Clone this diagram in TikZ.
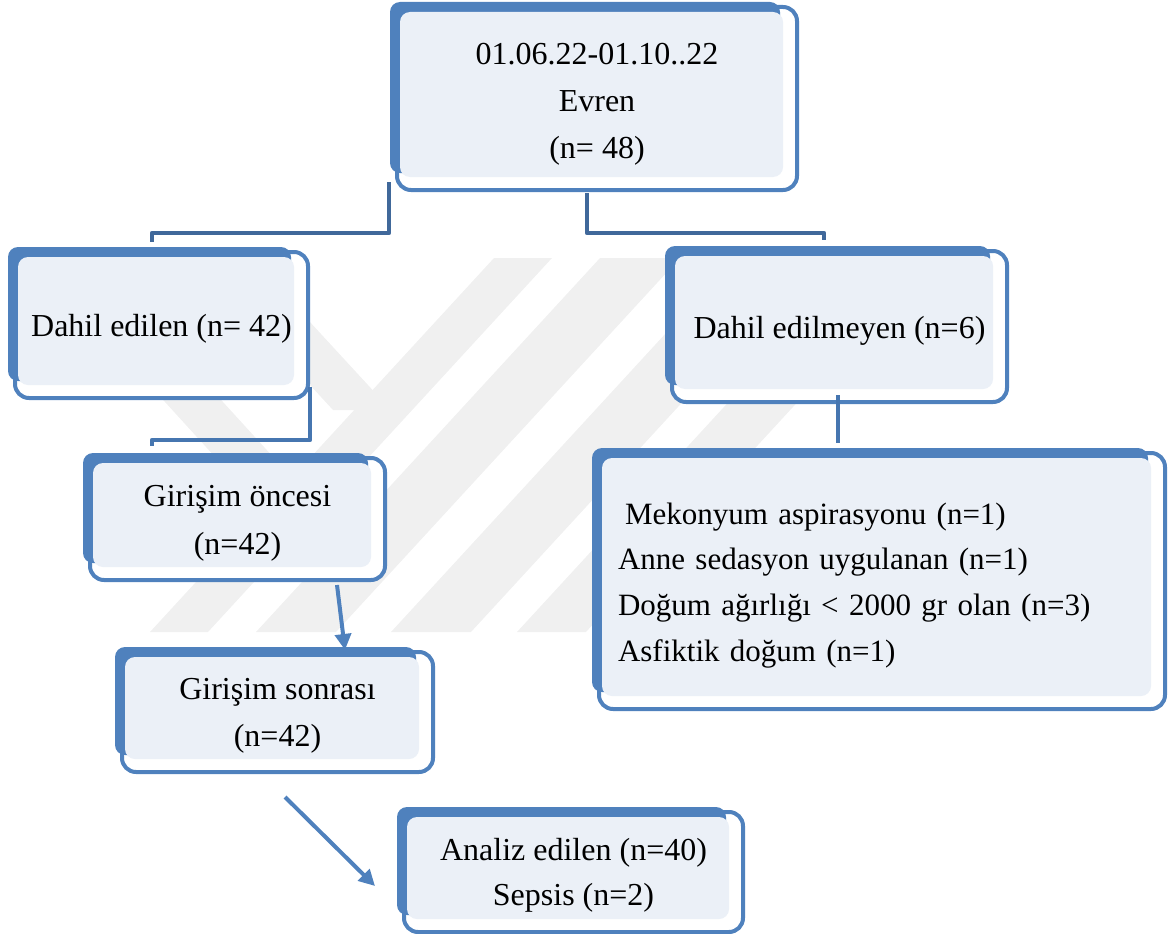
\documentclass[tikz,border=0pt]{standalone}
\usepackage{fontspec}
\setmainfont{Liberation Serif}
\usetikzlibrary{calc,arrows.meta}
\pgfdeclarelayer{wm}\pgfdeclarelayer{lA}\pgfdeclarelayer{lB}\pgfdeclarelayer{lC}
\pgfsetlayers{wm,lA,lB,lC,main}
\definecolor{bblue}{HTML}{4F81BD}
\definecolor{bfill}{HTML}{EBF0F7}
\definecolor{cdark}{HTML}{40689A}
\definecolor{cmid}{HTML}{4676B0}
\definecolor{wmgray}{HTML}{F0F0F0}
\newcommand{\deco}[1]{%
 \begin{pgfonlayer}{lA}\draw[bblue,line width=4pt,fill=white,rounded corners=14pt] (#1.north west) rectangle (#1.south east);\end{pgfonlayer}
 \begin{pgfonlayer}{lB}\fill[bblue,rounded corners=10pt] ($(#1.north west)+(-7,-5)$) rectangle ($(#1.south east)+(-17,-17)$);\end{pgfonlayer}
 \begin{pgfonlayer}{lC}\fill[bfill,rounded corners=10pt] ($(#1.north west)+(3,5)$) rectangle ($(#1.south east)+(-14,-13)$);\end{pgfonlayer}}
\tikzset{
 box/.style={rectangle,inner sep=0pt,outer sep=0pt,align=center,font=\fontsize{32}{47}\selectfont,
   execute at begin node={\rule{0pt}{30pt}}},
 conn/.style={line width=4.5pt,line join=round},
 arr/.style={bblue,line width=4pt,-{Triangle[length=16pt,width=16pt]}},
 wmark/.style={fill=wmgray}
}
\begin{document}
\begin{tikzpicture}[x=1pt,y=-1pt]
\useasboundingbox (0,0) rectangle (1168,934);
% faint watermark
\begin{pgfonlayer}{wm}
\fill[wmark] (494,258) -- (552,258) -- (208,632) -- (150,632) -- cycle;
\fill[wmark] (600,258) -- (680,258) -- (336,632) -- (256,632) -- cycle;
\fill[wmark] (735,258) -- (815,258) -- (471,632) -- (391,632) -- cycle;
\fill[wmark] (861,258) -- (930,258) -- (586,632) -- (517,632) -- cycle;
\fill[wmark] (193,258) -- (251,258) -- (391,410) -- (333,410) -- cycle;
\fill[wmark] (72,300) -- (130,300) -- (285,470) -- (227,470) -- cycle;
\end{pgfonlayer}
\node[box,minimum width=400pt,minimum height=183pt] (top) at (597,98.5) {\rule{0pt}{33pt}01.06.22-01.10..22\\Evren\\(n= 48)};
\node[box,minimum width=293pt,minimum height=146pt] (inc) at (161.5,325) {Dahil edilen (n= 42)};
\node[box,minimum width=335pt,minimum height=151pt] (exc) at (839.5,326.5) {Dahil edilmeyen (n=6)};
\node[box,minimum width=295pt,minimum height=122pt,font=\fontsize{32}{48}\selectfont] (pre) at (237.5,519) {\rule{0pt}{29pt}Girişim öncesi\\(n=42)};
\node[box,minimum width=311pt,minimum height=120pt,font=\fontsize{32}{47}\selectfont] (post) at (277.5,712) {\rule{0pt}{29pt}Girişim sonrası\\(n=42)};
\node[box,minimum width=339pt,minimum height=120pt,font=\fontsize{32}{45}\selectfont] (ana) at (573.5,872) {\rule{0pt}{29pt}Analiz edilen (n=40)\\Sepsis (n=2)};
\node[box,align=left,inner xsep=19pt,text width=528pt,minimum height=256pt,font=\fontsize{31}{45.7}\selectfont] (rsn) at (882,581)
 {\hspace*{7pt}Mekonyum aspirasyonu (n=1)\\Anne sedasyon uygulanan (n=1)\\Doğum ağırlığı < 2000 gr olan (n=3)\\Asfiktik doğum (n=1)};
\deco{top}\deco{inc}\deco{exc}\deco{pre}\deco{post}\deco{ana}\deco{rsn}
\draw[conn,cdark] ($(top.south west)+(-8,-8)$) -- ++(0,51) -| ($(inc.north west)+(137,-10)$);
\draw[conn,cdark] ($(top.south west)+(190,3)$) -- ++(0,40) -| ($(exc.north west)+(152,-11)$);
\draw[conn,cmid] ($(inc.south east)+(2,-11)$) -- ++(0,53) -| ($(pre.north west)+(62,-12)$);
\coordinate (rtop) at ($(rsn.north)+(-44,-10)$);
\draw[conn,cmid] ($(exc.south)+(-1.5,-7)$) -- (rtop -| {$(exc.south)+(-1.5,0)$});
\draw[arr] ($(pre.south)+(99.5,5)$) -- ($(post.north)+(67.5,-2)$);
\draw[arr] ($(post.south)+(7.5,25)$) -- ($(ana.west)+(-29,14)$);
\end{tikzpicture}
\end{document}
